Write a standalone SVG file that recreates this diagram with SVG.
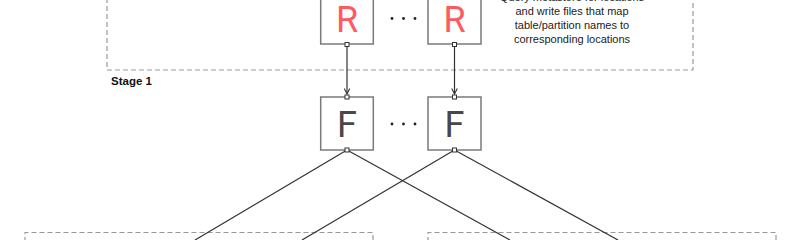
<svg xmlns="http://www.w3.org/2000/svg" width="800" height="240" viewBox="0 0 800 240">
<defs>
<style>
.stage{fill:none;stroke:#9a9a9a;stroke-width:1.2;stroke-dasharray:5 3}
.box{fill:#fff;stroke:#7a7a7a;stroke-width:1.5}
.port{fill:#fff;stroke:#333;stroke-width:1}
.conn{fill:none;stroke:#333;stroke-width:1.2}
.lbl{font-family:"Liberation Sans",Arial,sans-serif;font-size:11px;fill:#222;text-anchor:middle}
.big{font-family:Roboto,"Liberation Sans",sans-serif;font-size:36px;text-anchor:middle}
.dot{fill:#222}
</style>
<marker id="arr" viewBox="0 0 10 10" refX="9" refY="5" markerWidth="7" markerHeight="7" orient="auto" markerUnits="userSpaceOnUse">
<path d="M1,1 L9,5 L1,9" fill="none" stroke="#333" stroke-width="1.5"/>
</marker>
</defs>
<rect width="800" height="240" fill="#fff"/>
<g id="stage1">
<path class="stage" d="M107,-10 V70 H693 V-10"/>
<text x="111" y="84.5" style="font-family:'Liberation Sans',Arial,sans-serif;font-size:11.5px;font-weight:bold;fill:#111">Stage 1</text>
<text class="lbl"><tspan x="572" y="1">Query metastore for locations</tspan><tspan x="572" y="15">and write files that map</tspan><tspan x="572" y="29">table/partition names to</tspan><tspan x="572" y="43">corresponding locations</tspan></text>
</g>
<g id="stage-left"><path class="stage" d="M25,250 V232.5 H373 V250"/></g>
<g id="stage-right"><path class="stage" d="M428,250 V232.5 H776 V250"/></g>
<g id="connectors">
<line class="conn" x1="347" y1="46" x2="347" y2="94" marker-end="url(#arr)"/>
<line class="conn" x1="454.5" y1="46" x2="454.5" y2="94" marker-end="url(#arr)"/>
<line class="conn" x1="347" y1="150" x2="195" y2="240"/>
<line class="conn" x1="347" y1="150" x2="510" y2="240"/>
<line class="conn" x1="454.5" y1="150" x2="302" y2="240"/>
<line class="conn" x1="454.5" y1="150" x2="618" y2="240"/>
</g>
<g id="r1">
<rect class="box" x="320.7" y="-9" width="52.6" height="53"/>
<text class="big" x="347" y="32" fill="#ff5a5f">R</text>
<rect class="port" x="345" y="42.5" width="4" height="4"/>
</g>
<g id="r-dots"><circle class="dot" cx="392" cy="18.5" r="1.4"/><circle class="dot" cx="403.5" cy="18.5" r="1.4"/><circle class="dot" cx="415" cy="18.5" r="1.4"/></g>
<g id="r2">
<rect class="box" x="428" y="-9" width="53" height="53"/>
<text class="big" x="454.5" y="32" fill="#ff5a5f">R</text>
<rect class="port" x="452.5" y="42.5" width="4" height="4"/>
</g>
<g id="f1">
<rect class="box" x="320.7" y="97" width="52.6" height="53"/>
<text class="big" x="347" y="137" fill="#484848">F</text>
<rect class="port" x="345" y="95" width="4" height="4"/>
<rect class="port" x="345" y="148" width="4" height="4"/>
</g>
<g id="f-dots"><circle class="dot" cx="392" cy="124" r="1.4"/><circle class="dot" cx="403.5" cy="124" r="1.4"/><circle class="dot" cx="415" cy="124" r="1.4"/></g>
<g id="f2">
<rect class="box" x="428" y="97" width="53" height="53"/>
<text class="big" x="454.5" y="137" fill="#484848">F</text>
<rect class="port" x="452.5" y="95" width="4" height="4"/>
<rect class="port" x="452.5" y="148" width="4" height="4"/>
</g>
</svg>
